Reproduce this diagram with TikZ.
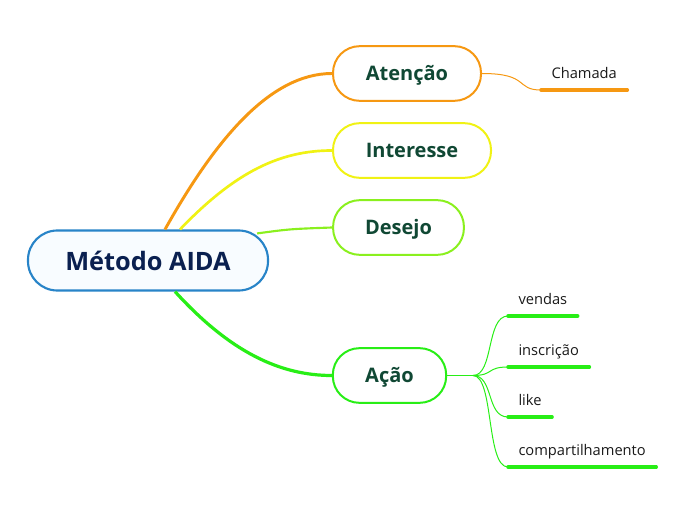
\documentclass[tikz,border=0pt]{standalone}
\usepackage{fontspec}
\setmainfont{Open Sans}
\usepackage{tikz}
\usetikzlibrary{calc}
\tikzset{every picture/.style={line width=0.75pt}}

\definecolor{rootblue}{RGB}{40,132,200}
\definecolor{rootfill}{RGB}{248,252,255}
\definecolor{roottext}{RGB}{10,32,80}
\definecolor{subtext}{RGB}{16,72,52}
\definecolor{leaftext}{RGB}{25,25,25}
\definecolor{atenOrange}{RGB}{246,152,18}
\definecolor{intYellow}{RGB}{240,242,20}
\definecolor{desLime}{RGB}{138,240,30}
\definecolor{acaoGreen}{RGB}{40,238,22}

\tikzset{
  rootnode/.style={draw=rootblue, fill=rootfill, line width=1.6pt, rounded corners=22pt,
    minimum width=180pt, minimum height=45pt, text=roottext,
    font=\fontsize{19}{23}\selectfont\bfseries},
  topic/.style={draw=#1, fill=white, line width=1.5pt, rounded corners=20pt,
    minimum height=41pt, inner xsep=24pt, text=subtext,
    text height=14pt, text depth=3.5pt,
    font=\fontsize{15}{18}\selectfont\bfseries},
  leaf/.style={anchor=south west, inner xsep=7.5pt, inner ysep=6pt,
    text height=8pt, text depth=2.5pt, text=leaftext,
    font=\fontsize{11}{13}\selectfont},
  underline/.style={draw=#1, line width=2.6pt, line cap=round},
  branch/.style={draw=#1, line width=0.75pt}
}

\begin{document}
\begin{tikzpicture}[x=0.75pt,y=0.75pt,yscale=-1,xscale=1]
\useasboundingbox (0,0) rectangle (696,520);

% main topics
\node [rootnode] (root) at (148,260.5) {Método AIDA};
\node [topic=atenOrange, minimum width=111pt] (atencao) at (407,73.5) {Atenção};
\node [topic=intYellow, minimum width=118.5pt] (interesse) at (412,150.5) {Interesse};
\node [topic=desLime, minimum width=98pt] (desejo) at (398.5,227.5) {Desejo};
\node [topic=acaoGreen, minimum width=85pt] (acao) at (389.5,375.5) {Ação};

% connectors from the root
\draw [atenOrange, line width=2.2pt] ($(root.north)+(17,0)$) .. controls (215,140) and (270,73.5) .. (atencao.west);
\draw [intYellow, line width=2pt] ($(root.north)+(32,0)$) .. controls (235,172) and (280,150.5) .. (interesse.west);
\draw [desLime, line width=1.6pt] ($(root.north east)+(-12,4)$) .. controls (290,229) .. (desejo.west);
\draw [acaoGreen, line width=2.4pt] ($(root.south)+(27,0)$) .. controls (230,352) and (280,375.5) .. (acao.west);

% Atenção
\node [leaf] (chamada) at (541,90) {Chamada};
\draw [branch=atenOrange] (atencao.east) .. controls (530,73.5) and (515,90) .. (chamada.south west);
\draw [underline=atenOrange] (chamada.south west) -- (chamada.south east);

% Ação
\coordinate (fan) at (473,375.5);
\node [leaf] (vendas) at (508,316) {vendas};
\node [leaf] (inscricao) at (508,367) {inscrição};
\node [leaf] (like) at (508,417) {like};
\node [leaf] (compart) at (508,467) {compartilhamento};
\draw [branch=acaoGreen] (acao.east) -- (fan);
\foreach \leafname in {vendas,inscricao,like,compart}
{
  \draw [branch=acaoGreen] (fan) .. controls (494,375.5) and (486,0|-\leafname.south west) .. (\leafname.south west);
  \draw [underline=acaoGreen] (\leafname.south west) -- (\leafname.south east);
}
\end{tikzpicture}
\end{document}
